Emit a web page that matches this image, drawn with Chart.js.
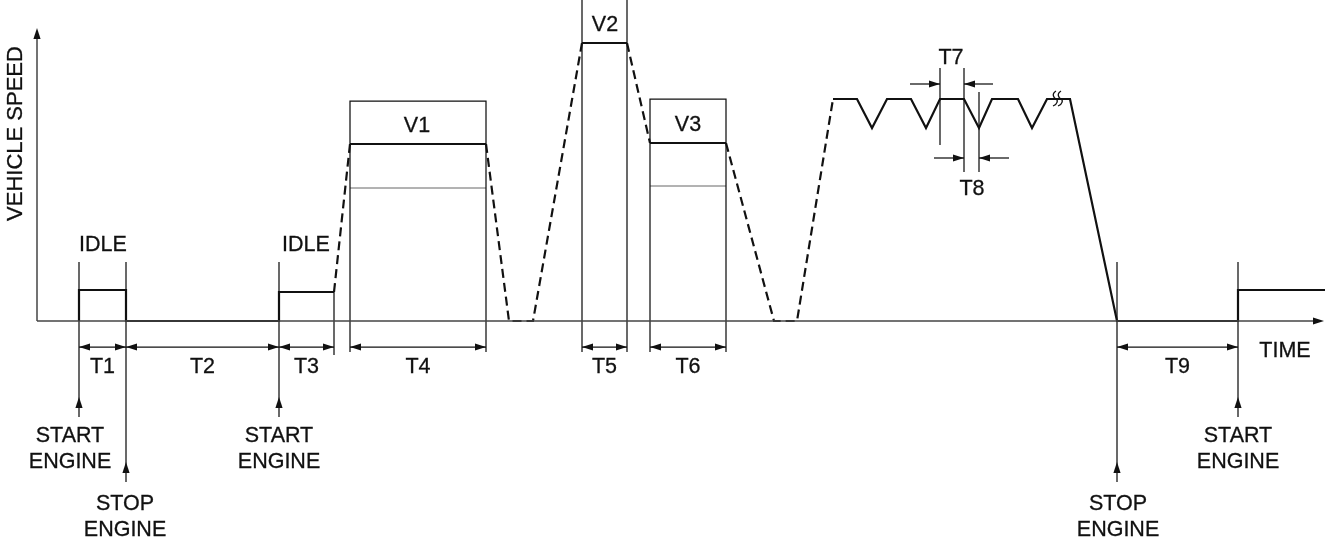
<!DOCTYPE html>
<html><head><meta charset="utf-8">
<script src="https://cdn.jsdelivr.net/npm/chart.js@4.4.1/dist/chart.umd.min.js"></script>
<style>html,body{margin:0;padding:0;background:#fff;overflow:hidden}#wrap{width:1325px;height:541px}</style>
</head><body><div id="wrap"><canvas id="c" width="1325" height="541"></canvas></div>
<script>
// ---- Data (time units along x, speed units along y; 0 = standstill) ----
const idleTime = [79, 79, 126, 126, 279, 279, 334];
const idleSpeed = [0, 31, 31, 0, 0, 29, 29];
const rise1Time = [334, 350];
const rise1Speed = [29, 177];
const v1Time = [350, 486];
const v1Speed = [177, 177];
const dip1Time = [486, 509, 533, 582];
const dip1Speed = [177, 0, 0, 278];
const v2Time = [582, 627];
const v2Speed = [278, 278];
const fall2Time = [627, 650];
const fall2Speed = [278, 178];
const v3Time = [650, 726];
const v3Speed = [178, 178];
const dip3Time = [726, 774, 797, 833];
const dip3Speed = [178, 0, 0, 222];
const cruiseTime = [833, 857, 872, 887, 911, 926, 940, 964, 979, 992, 1018, 1032, 1047, 1070, 1117, 1238, 1238, 1325];
const cruiseSpeed = [222, 222, 193, 222, 222, 193, 222, 222, 193, 222, 222, 193, 222, 222, 0, 0, 31, 31];

// tolerance boxes
const v1BoxTime = [350, 350, 486, 486];
const v1BoxSpeed = [-31, 220, 220, -31];
const v1LowTime = [350, 486];
const v1LowSpeed = [133, 133];
const v2BoxTime = [582, 582, 627, 627];
const v2BoxSpeed = [-31, 340, 340, -31];
const v3BoxTime = [650, 650, 726, 726];
const v3BoxSpeed = [-31, 222, 222, -31];
const v3LowTime = [650, 726];
const v3LowSpeed = [135, 135];

// engine events
const startEngineTimes = [79, 279, 1238];
const stopEngineTimes = [126, 1117];
const idleEndTime = [334];

// dimension intervals
const intervalLabels = ['T1', 'T2', 'T3', 'T4', 'T5', 'T6', 'T9'];
const intervalStart = [79, 126, 279, 350, 582, 650, 1117];
const intervalEnd = [126, 279, 334, 486, 627, 726, 1238];

// T7 / T8 markers
const t7Times = [940, 964];
const t8Times = [964, 979];

// ---- helpers ----
const pts = (xs, ys) => xs.map((x, i) => ({x, y: ys[i]}));
const THICK = {borderColor: '#111', borderWidth: 2.2};
const THIN = {borderColor: '#111', borderWidth: 1.25};
const GREY = {borderColor: '#666', borderWidth: 1};
const DASH = {borderColor: '#111', borderWidth: 2.2, borderDash: [9, 5]};
function ds(xs, ys, style) {
  return Object.assign({data: pts(xs, ys), showLine: true, pointRadius: 0, tension: 0,
    fill: false, borderJoinStyle: 'miter', borderCapStyle: 'butt'}, style);
}

const datasets = [];
// axes
datasets.push(ds([37, 1316], [0, 0], {borderColor: '#444', borderWidth: 1.5}));
datasets.push(ds([37, 37], [0, 286], {borderColor: '#444', borderWidth: 1.5}));
// boxes
datasets.push(ds(v1BoxTime, v1BoxSpeed, THIN));
datasets.push(ds(v1LowTime, v1LowSpeed, GREY));
datasets.push(ds(v2BoxTime, v2BoxSpeed, THIN));
datasets.push(ds(v3BoxTime, v3BoxSpeed, THIN));
datasets.push(ds(v3LowTime, v3LowSpeed, GREY));
// engine event lines
startEngineTimes.forEach(t => datasets.push(ds([t, t], [59, -96], THIN)));
stopEngineTimes.forEach(t => datasets.push(ds([t, t], [59, -161], THIN)));
idleEndTime.forEach(t => datasets.push(ds([t, t], [29, -34], THIN)));
// dimension lines
intervalStart.forEach((s, i) => datasets.push(ds([s, intervalEnd[i]], [-26, -26], THIN)));
// T7/T8
datasets.push(ds([t7Times[0], t7Times[0]], [253, 176], THIN));
datasets.push(ds([t7Times[1], t7Times[1]], [253, 149], THIN));
datasets.push(ds([t8Times[1], t8Times[1]], [229, 149], THIN));
datasets.push(ds([910, t7Times[0]], [237, 237], THIN));
datasets.push(ds([993, t7Times[1]], [237, 237], THIN));
datasets.push(ds([934, t8Times[0]], [163, 163], THIN));
datasets.push(ds([1009, t8Times[1]], [163, 163], THIN));
// speed profile
datasets.push(ds(idleTime, idleSpeed, THICK));
datasets.push(ds(rise1Time, rise1Speed, DASH));
datasets.push(ds(v1Time, v1Speed, THICK));
datasets.push(ds(dip1Time, dip1Speed, DASH));
datasets.push(ds(v2Time, v2Speed, THICK));
datasets.push(ds(fall2Time, fall2Speed, DASH));
datasets.push(ds(v3Time, v3Speed, THICK));
datasets.push(ds(dip3Time, dip3Speed, DASH));
datasets.push(ds(cruiseTime, cruiseSpeed, THICK));

// arrowheads: [time, speed, direction]
const arrowHeads = [
  [1324, 0, 'right'], [37, 293, 'up']
];
intervalStart.forEach((s, i) => { arrowHeads.push([s, -26, 'left']); arrowHeads.push([intervalEnd[i], -26, 'right']); });
startEngineTimes.forEach(t => arrowHeads.push([t, -76, 'up']));
stopEngineTimes.forEach(t => arrowHeads.push([t, -141, 'up']));
arrowHeads.push([t7Times[0], 237, 'right'], [t7Times[1], 237, 'left'], [t8Times[0], 163, 'right'], [t8Times[1], 163, 'left']);

// text labels: [text, time, speed(baseline)]
const textLabels = [
  ['IDLE', 103, 70], ['IDLE', 306, 70],
  ['V1', 417, 189], ['V2', 605, 290], ['V3', 688, 190],
  ['T7', 951, 257], ['T8', 972, 126],
  ['TIME', 1285, -36],
  ['START', 70, -121], ['ENGINE', 70, -147],
  ['START', 279, -121], ['ENGINE', 279, -147],
  ['START', 1238, -121], ['ENGINE', 1238, -147],
  ['STOP', 125, -189], ['ENGINE', 125, -215],
  ['STOP', 1118, -189], ['ENGINE', 1118, -215]
];
intervalLabels.forEach((l, i) => textLabels.push([l, (intervalStart[i] + intervalEnd[i]) / 2, -52]));

const overlay = {
  id: 'overlay',
  afterDatasetsDraw(chart) {
    const {ctx, scales: {x, y}} = chart;
    ctx.save();
    ctx.fillStyle = '#111';
    arrowHeads.forEach(([t, s, d]) => {
      const px = x.getPixelForValue(t), py = y.getPixelForValue(s);
      const L = 11, W = 3.6;
      ctx.beginPath();
      if (d === 'right') { ctx.moveTo(px, py); ctx.lineTo(px - L, py - W); ctx.lineTo(px - L, py + W); }
      if (d === 'left') { ctx.moveTo(px, py); ctx.lineTo(px + L, py - W); ctx.lineTo(px + L, py + W); }
      if (d === 'up') { ctx.moveTo(px, py); ctx.lineTo(px - W, py + L); ctx.lineTo(px + W, py + L); }
      ctx.closePath(); ctx.fill();
    });
    ctx.font = '21.5px "Liberation Sans", Arial, sans-serif';
    ctx.textAlign = 'center';
    ctx.textBaseline = 'alphabetic';
    ctx.strokeStyle = '#111';
    ctx.lineWidth = 0.3;
    textLabels.forEach(([txt, t, s]) => {
      const px = x.getPixelForValue(t), py = y.getPixelForValue(s);
      ctx.fillText(txt, px, py);
      ctx.strokeText(txt, px, py);
    });
    // axis title
    ctx.save();
    ctx.font = '22px "Liberation Sans", Arial, sans-serif';
    ctx.translate(x.getPixelForValue(22), y.getPixelForValue(187.5));
    ctx.rotate(-Math.PI / 2);
    ctx.fillText('VEHICLE SPEED', 0, 0);
    ctx.strokeText('VEHICLE SPEED', 0, 0);
    ctx.restore();
    // break mark on cruise line
    ctx.strokeStyle = '#111'; ctx.lineWidth = 1.3;
    [1055, 1060].forEach(t => {
      const px = x.getPixelForValue(t), py = y.getPixelForValue(222);
      ctx.beginPath();
      ctx.moveTo(px + 1, py - 8);
      ctx.bezierCurveTo(px - 4, py - 5, px - 1, py - 1, px + 1, py);
      ctx.bezierCurveTo(px + 3, py + 1, px + 3, py + 5, px - 2, py + 7);
      ctx.stroke();
    });
    ctx.restore();
  }
};

new Chart(document.getElementById('c'), {
  type: 'scatter',
  data: {datasets},
  options: {
    responsive: false, animation: false, events: [],
    layout: {padding: 0},
    plugins: {legend: {display: false}, tooltip: {enabled: false}},
    scales: {
      x: {type: 'linear', min: 0, max: 1325, display: false},
      y: {type: 'linear', min: -220, max: 321, display: false}
    }
  },
  plugins: [overlay]
});
</script></body></html>
